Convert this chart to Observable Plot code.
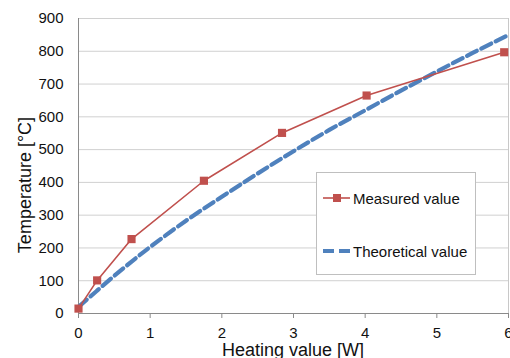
<!DOCTYPE html>
<html>
<head>
<meta charset="utf-8">
<script src="https://cdn.jsdelivr.net/npm/d3@7"></script>
<script src="https://cdn.jsdelivr.net/npm/@observablehq/plot@0.6"></script>
<style>
  html, body { margin: 0; padding: 0; background: #fff; }
  #wrap { position: relative; width: 510px; height: 358px; overflow: hidden; font-family: "Liberation Sans", Arial, sans-serif; }
  #ytitle { position: absolute; left: 25px; top: 185px; transform: translate(-50%, -50%) rotate(-90deg); font-size: 18px; white-space: nowrap; color: #111; }
  #xtitle { position: absolute; left: 293px; top: 343px; transform: translateX(-50%); font-size: 18px; white-space: nowrap; color: #111; line-height: 14px; height: 14px; }
  #legend { position: absolute; left: 316px; top: 172px; width: 160px; height: 103px; border: 1px solid #bfbfbf; background: #fff; box-sizing: border-box; font-size: 15px; color: #111; }
  .row { position: absolute; left: 5px; display: flex; align-items: center; white-space: nowrap; }
  .row svg { display: block; margin-right: 3px; }
</style>
</head>
<body>
<div id="wrap"></div>
<script>
const measuredX = [0, 0.26, 0.74, 1.75, 2.84, 4.02, 5.94];
const measuredY = [15, 101, 227, 405, 551, 665, 797];
const theoryX = [0, 0.25, 0.5, 0.75, 1, 1.5, 2, 2.5, 3, 3.5, 4, 4.5, 5, 5.5, 6];
const theoryY = [20, 68, 115, 160, 203, 283, 356, 427, 495, 560, 620, 680, 738, 795, 850];
const xTicks = [0, 1, 2, 3, 4, 5, 6];
const yTicks = [0, 100, 200, 300, 400, 500, 600, 700, 800, 900];
const seriesNames = ["Measured value", "Theoretical value"];
const xTitle = "Heating value [W]";
const yTitle = "Temperature [°C]";

const measured = measuredX.map((x, i) => ({x, y: measuredY[i]}));
const theory = theoryX.map((x, i) => ({x, y: theoryY[i]}));
const red = "#C0504D", blue = "#4F81BD";

const chart = Plot.plot({
  width: 510, height: 358,
  marginLeft: 78, marginRight: 2, marginTop: 18, marginBottom: 45,
  style: {fontFamily: '"Liberation Sans", Arial, sans-serif', fontSize: "15px", color: "#111", background: "#fff", overflow: "visible"},
  x: {domain: [0, 6]},
  y: {domain: [0, 900]},
  marks: [
    Plot.ruleY(yTicks, {stroke: "#d0d0d0", strokeWidth: 1}),
    Plot.ruleX([6], {stroke: "#c8c8c8", strokeWidth: 1}),
    Plot.ruleX([0], {stroke: "#8a8a8a", strokeWidth: 1}),
    Plot.ruleY([0], {stroke: "#8a8a8a", strokeWidth: 1}),
    Plot.axisX({ticks: xTicks, tickFormat: d => String(d), tickSize: 5, tickPadding: 9, stroke: "#8a8a8a", label: null, fill: "#111"}),
    Plot.axisY({ticks: yTicks, tickFormat: d => String(d), tickSize: 0, tickPadding: 15, label: null, fill: "#111"}),
    Plot.line(theory, {x: "x", y: "y", stroke: blue, strokeWidth: 4.2, strokeDasharray: "11,5", curve: "catmull-rom"}),
    Plot.line(measured, {x: "x", y: "y", stroke: red, strokeWidth: 1.6}),
    Plot.dot(measured, {x: "x", y: "y", symbol: "square", r: 4.6, fill: red, stroke: "none"})
  ]
});

const wrap = document.getElementById("wrap");
wrap.appendChild(chart);

const yt = document.createElement("div"); yt.id = "ytitle"; yt.textContent = yTitle; wrap.appendChild(yt);
const xt = document.createElement("div"); xt.id = "xtitle"; xt.textContent = xTitle; wrap.appendChild(xt);

const legend = document.createElement("div"); legend.id = "legend";
legend.innerHTML = `
  <div class="row" style="top:15px">
    <svg width="28" height="20"><line x1="1" y1="10" x2="28" y2="10" stroke="${red}" stroke-width="1.6"/><rect x="11" y="6" width="8" height="8" fill="${red}"/></svg>
    <span>${seriesNames[0]}</span>
  </div>
  <div class="row" style="top:68px">
    <svg width="28" height="20"><line x1="1" y1="10" x2="28" y2="10" stroke="${blue}" stroke-width="4.2" stroke-dasharray="11,5"/></svg>
    <span>${seriesNames[1]}</span>
  </div>`;
wrap.appendChild(legend);
</script>
</body>
</html>
